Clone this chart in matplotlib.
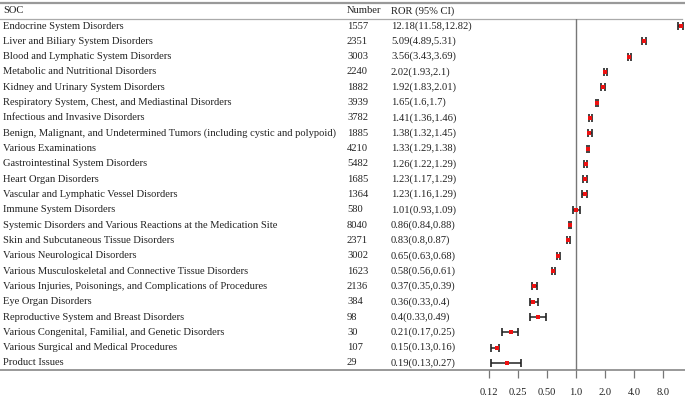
import numpy as np
import matplotlib
matplotlib.use("Agg")
import matplotlib.pyplot as plt

plt.rcParams['font.family'] = ['Liberation Serif', 'DejaVu Serif']

# ---- data ----
soc = [
    "Endocrine System Disorders",
    "Liver and Biliary System Disorders",
    "Blood and Lymphatic System Disorders",
    "Metabolic and Nutritional Disorders",
    "Kidney and Urinary System Disorders",
    "Respiratory System, Chest, and Mediastinal Disorders",
    "Infectious and Invasive Disorders",
    "Benign, Malignant, and Undetermined Tumors (including cystic and polypoid)",
    "Various Examinations",
    "Gastrointestinal System Disorders",
    "Heart Organ Disorders",
    "Vascular and Lymphatic Vessel Disorders",
    "Immune System Disorders",
    "Systemic Disorders and Various Reactions at the Medication Site",
    "Skin and Subcutaneous Tissue Disorders",
    "Various Neurological Disorders",
    "Various Musculoskeletal and Connective Tissue Disorders",
    "Various Injuries, Poisonings, and Complications of Procedures",
    "Eye Organ Disorders",
    "Reproductive System and Breast Disorders",
    "Various Congenital, Familial, and Genetic Disorders",
    "Various Surgical and Medical Procedures",
    "Product Issues",
]
number = [1557, 2351, 3003, 2240, 1882, 3939, 3782, 1885, 4210, 5482, 1685, 1364,
          580, 8040, 2371, 3002, 1623, 2136, 384, 98, 30, 107, 29]
ror = [12.18, 5.09, 3.56, 2.02, 1.92, 1.65, 1.41, 1.38, 1.33, 1.26, 1.23, 1.23,
       1.01, 0.86, 0.83, 0.65, 0.58, 0.37, 0.36, 0.4, 0.21, 0.15, 0.19]
ci_low = [11.58, 4.89, 3.43, 1.93, 1.83, 1.6, 1.36, 1.32, 1.29, 1.22, 1.17, 1.16,
          0.93, 0.84, 0.8, 0.63, 0.56, 0.35, 0.33, 0.33, 0.17, 0.13, 0.13]
ci_high = [12.82, 5.31, 3.69, 2.1, 2.01, 1.7, 1.46, 1.45, 1.38, 1.29, 1.29, 1.29,
           1.09, 0.88, 0.87, 0.68, 0.61, 0.39, 0.4, 0.49, 0.25, 0.16, 0.27]
tick_vals = [0.125, 0.25, 0.5, 1.0, 2.0, 4.0, 8.0]
tick_labels = ["0.12", "0.25", "0.50", "1.0", "2.0", "4.0", "8.0"]

W, H = 685, 399
FS = 7.55
fig = plt.figure(figsize=(W / 100, H / 100), dpi=100)

n = len(soc)
rows = np.arange(n)
# vertical frame of the table (pixels from top)
y_top, y_bot = 19, 370
pad = 0.46
ax_b = 1 - y_bot / H
ax_h = (y_bot - y_top) / H
row_px = (y_bot - y_top) / (n - 1 + 2 * pad)

# table axes (full width)
tab = fig.add_axes([0, ax_b, 1, ax_h])
tab.set_xlim(0, W)
tab.set_ylim(n - 1 + pad, -pad)
tab.axis('off')

col_soc, col_num, col_ror = 3, 347, 391
txt_kw = dict(fontsize=FS, color='#222222', va='center', clip_on=False)
for i in rows:
    tab.text(col_soc, i, soc[i], ha='left', **txt_kw)
    tab.text(col_num, i, str(number[i]), ha='left', **txt_kw)
    tab.text(col_ror, i, f"{ror[i]:g}({ci_low[i]:g},{ci_high[i]:g})", ha='left', **txt_kw)

y_head = -pad - (y_top - 11) / row_px
tab.text(col_soc, y_head, "SOC", ha='left', **txt_kw)
tab.text(col_num, y_head, "Number", ha='left', **txt_kw)
tab.text(col_ror, y_head, "ROR (95% CI)", ha='left', **txt_kw)

y_rule = -pad - (y_top - 3) / row_px
tab.plot([0, W], [y_rule, y_rule], color='#999999', lw=1.6, clip_on=False)
tab.plot([0, W - 3], [-pad, -pad], color='#aaaaaa', lw=0.9, clip_on=False)
tab.plot([0, W], [n - 1 + pad, n - 1 + pad], color='#999999', lw=1.4, clip_on=False)

# forest axes
x0_px, x1_px, one_px, dbl_px = 455, W, 576, 29.0
xl = 2 ** ((x0_px - one_px) / dbl_px)
xr = 2 ** ((x1_px - one_px) / dbl_px)
ax = fig.add_axes([x0_px / W, ax_b, (x1_px - x0_px) / W, ax_h])
ax.patch.set_alpha(0)
ax.set_xscale('log', base=2)
ax.set_xlim(xl, xr)
ax.set_ylim(n - 1 + pad, -pad)
for s in ax.spines.values():
    s.set_visible(False)
ax.set_yticks([])
ax.set_xticks(tick_vals)
ax.set_xticklabels(tick_labels)
ax.minorticks_off()
ax.tick_params(axis='x', direction='out', length=6, width=0.9, color='#777777',
               labelsize=FS, labelcolor='#222222', pad=7)

ax.axvline(1.0, color='#777777', lw=1.0)

ror_a = np.array(ror)
err = np.vstack([ror_a - np.array(ci_low), np.array(ci_high) - ror_a])
ax.errorbar(ror, rows, xerr=err, fmt='none', ecolor='#222222', elinewidth=1.1,
            capsize=3, capthick=1.2, zorder=3)
ax.plot(ror, rows, 's', color='#ee1111', markersize=3, markeredgewidth=0, zorder=4)

fig.savefig("out.png", dpi=100, facecolor='white')
